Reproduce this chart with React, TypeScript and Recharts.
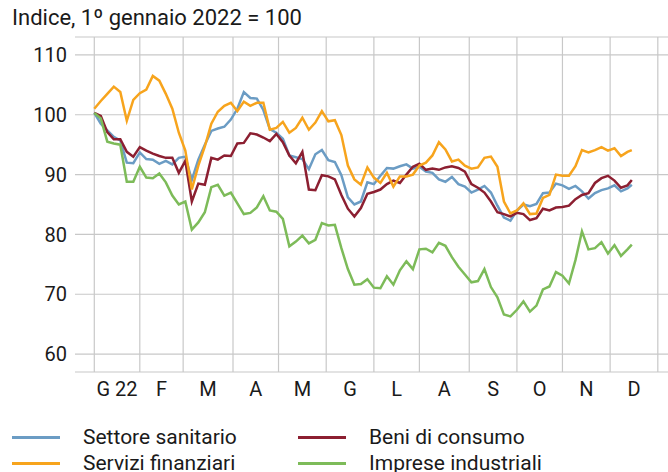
import { CartesianGrid, Line, LineChart, XAxis, YAxis } from "recharts";

// trading-day index since 3 Jan 2022 (sampled every 3 sessions)
const days = [
  0, 3, 6, 9, 12, 15, 18, 21, 24, 27, 30, 33, 36, 39, 42, 45, 48, 51, 54, 57,
  60, 63, 66, 69, 72, 75, 78, 81, 84, 87, 90, 93, 96, 99, 102, 105, 108, 111,
  114, 117, 120, 123, 126, 129, 132, 135, 138, 141, 144, 147, 150, 153, 156,
  159, 162, 165, 168, 171, 174, 177, 180, 183, 186, 189, 192, 195, 198, 201,
  204, 207, 210, 213, 216, 219, 222, 225, 228, 231, 234, 237, 240, 243, 246, 248,
];

const sanitario = [
  100.3, 98.5, 97.4, 96.3, 95.7, 92, 91.9, 93.7, 92.6, 92.5, 91.8, 92.3, 91.7, 92.8,
  93, 89.1, 92.5, 95, 97.3, 97.7, 98, 99.2, 101, 103.8, 102.8, 102.7, 100.8, 97.6,
  97, 96, 93.2, 92.9, 92.6, 90.9, 93.4, 94.1, 92.4, 92.1, 89.9, 86.2, 85, 85.5,
  88.7, 88.4, 89.8, 91.1, 91, 91.4, 91.7, 91, 91.3, 90.5, 90.3, 89.2, 88.8, 89.6,
  88.4, 88, 87, 87.5, 88.1, 87, 84.8, 82.8, 82.3, 84, 85, 84.7, 85.1, 86.9, 87,
  88.5, 88.2, 87.6, 88.1, 87.2, 86, 86.9, 87.4, 87.7, 88.2, 87.2, 87.7, 88.3,
];

const consumo = [
  100.3, 99.8, 97.1, 95.9, 95.9, 93.8, 93, 94.6, 94, 93.5, 93.1, 92.8, 92.8, 90.3,
  92.3, 85.5, 88.5, 88.3, 92.8, 92.5, 93.2, 93.1, 95.2, 95.3, 96.9, 96.7, 96.2,
  95.6, 96.8, 95.4, 93.2, 91.9, 93.8, 87.5, 87.4, 89.9, 89.7, 89.2, 86.6, 84.3,
  83, 84.4, 86.8, 87.1, 87.5, 88.4, 89, 88.6, 90, 91.3, 91.8, 90.8, 91, 90.8, 91.2,
  91.4, 91.1, 90.5, 88.4, 87.8, 87, 85.5, 83.7, 83.4, 83, 83.6, 83.4, 82.4, 82.7,
  84.3, 84, 84.5, 84.6, 84.8, 85.9, 86.6, 86.9, 88.6, 89.4, 89.8, 89, 87.8, 88.2, 89.1,
];

const finanziari = [
  101, 102.3, 103.5, 104.7, 103.8, 99, 102.5, 103.6, 104.2, 106.5, 105.7, 103.5,
  101, 97, 94, 87.5, 91.5, 94.7, 98.5, 100.5, 101.5, 102, 100.6, 102.2, 101.5, 102,
  102, 97.5, 97.8, 98.8, 97, 97.8, 99.5, 97.5, 98.7, 100.6, 98.9, 99.1, 96.6, 91.5,
  89.2, 88.3, 91.2, 89.5, 88.6, 90.3, 88, 89.7, 89.7, 90, 91.5, 92, 93.2, 95.4,
  94.2, 92.2, 92.5, 91.5, 91, 91.2, 92.8, 93, 91.3, 85.5, 83.5, 84, 85.2, 83.4,
  83.5, 86.1, 86.6, 90, 89.8, 89.8, 91.4, 94.1, 93.7, 94.1, 94.6, 94, 94.4, 93.1,
  93.8, 94.1,
];

const industriali = [
  100.3, 99.4, 95.5, 95.2, 95, 88.8, 88.8, 91.3, 89.5, 89.4, 90.2, 88.7, 86.5, 85,
  85.5, 80.8, 82, 83.7, 87.9, 88.3, 86.5, 87, 85.2, 83.4, 83.6, 84.5, 86.4, 84,
  83.8, 82.6, 78, 78.8, 79.8, 78.5, 79.1, 81.9, 81.5, 81.6, 77.7, 74.2, 71.6, 71.7,
  72.5, 71.1, 71, 73, 71.6, 74, 75.5, 74.2, 77.5, 77.6, 77, 78.6, 78.1, 76.2, 74.6,
  73.3, 72, 72.2, 74.2, 71.2, 69.5, 66.6, 66.3, 67.4, 68.8, 67.1, 68.1, 70.8, 71.3,
  73.7, 73.1, 71.8, 75.7, 80.5, 77.5, 77.7, 78.7, 76.8, 78.2, 76.4, 77.5, 78.3,
];

// first trading day of each month (index), Jan 2022 .. Jan 2023
const monthStarts = [0, 21, 41, 64, 85, 107, 129, 150, 173, 195, 216, 238, 260];
const monthLabels = ["G 22", "F", "M", "A", "M", "G", "L", "A", "S", "O", "N", "D"];
const yTicks = [60, 70, 80, 90, 100, 110];

const monthMids = monthLabels.map((_, i) => (monthStarts[i] + monthStarts[i + 1]) / 2);

const data = days.map((d, i) => ({
  day: d,
  sanitario: sanitario[i],
  consumo: consumo[i],
  finanziari: finanziari[i],
  industriali: industriali[i],
}));

const FONT = "Roboto, 'Noto Sans', sans-serif";
const COLORS = {
  sanitario: "#6b9cc4",
  consumo: "#8c1f31",
  finanziari: "#f7a41d",
  industriali: "#7dbb59",
};

const legend = [
  { key: "sanitario", label: "Settore sanitario" },
  { key: "consumo", label: "Beni di consumo" },
  { key: "finanziari", label: "Servizi finanziari" },
  { key: "industriali", label: "Imprese industriali" },
] as const;

export default function App() {
  return (
    <div
      style={{
        position: "absolute",
        left: 0,
        top: 0,
        width: 668,
        height: 472,
        overflow: "hidden",
        background: "#fff",
        fontFamily: FONT,
        color: "#1a1a1a",
      }}
    >
      <div style={{ position: "absolute", left: 12, top: 5, fontSize: 22, lineHeight: "25px" }}>
        Indice, 1º gennaio 2022 = 100
      </div>
      <LineChart
        width={668}
        height={420}
        data={data}
        margin={{ top: 37, right: 0, left: 0, bottom: 0 }}
      >
        <CartesianGrid stroke="#c8c8c8" strokeWidth={1.2} verticalValues={monthStarts} />
        <XAxis
          dataKey="day"
          type="number"
          domain={[-8.9, 264.7]}
          allowDataOverflow
          ticks={monthMids}
          tickFormatter={(_, i) => monthLabels[i]}
          interval={0}
          axisLine={false}
          tickLine={false}
          tickMargin={4}
          height={48}
          tick={{ fontSize: 20, fontFamily: FONT, fill: "#1a1a1a" }}
        />
        <YAxis
          type="number"
          domain={[57, 113]}
          allowDataOverflow
          ticks={yTicks}
          interval={0}
          axisLine={false}
          tickLine={false}
          width={75}
          tick={{ fontSize: 20, fontFamily: FONT, fill: "#1a1a1a" }}
        />
        <Line type="linear" dataKey="sanitario" stroke={COLORS.sanitario} strokeWidth={2.5} dot={false} isAnimationActive={false} />
        <Line type="linear" dataKey="consumo" stroke={COLORS.consumo} strokeWidth={2.5} dot={false} isAnimationActive={false} />
        <Line type="linear" dataKey="industriali" stroke={COLORS.industriali} strokeWidth={2.5} dot={false} isAnimationActive={false} />
        <Line type="linear" dataKey="finanziari" stroke={COLORS.finanziari} strokeWidth={2.5} dot={false} isAnimationActive={false} />
      </LineChart>
      {legend.map((item, i) => {
        const col = i % 2;
        const row = Math.floor(i / 2);
        const left = col === 0 ? 12 : 298;
        const top = 437 + row * 26;
        return (
          <div key={item.key}>
            <div
              style={{
                position: "absolute",
                left,
                top: top - 1.5,
                width: 48,
                height: 3,
                background: COLORS[item.key],
              }}
            />
            <div
              style={{
                position: "absolute",
                left: left + 71,
                top: top - 12,
                fontSize: 21,
                lineHeight: "24px",
                whiteSpace: "nowrap",
              }}
            >
              {item.label}
            </div>
          </div>
        );
      })}
    </div>
  );
}
